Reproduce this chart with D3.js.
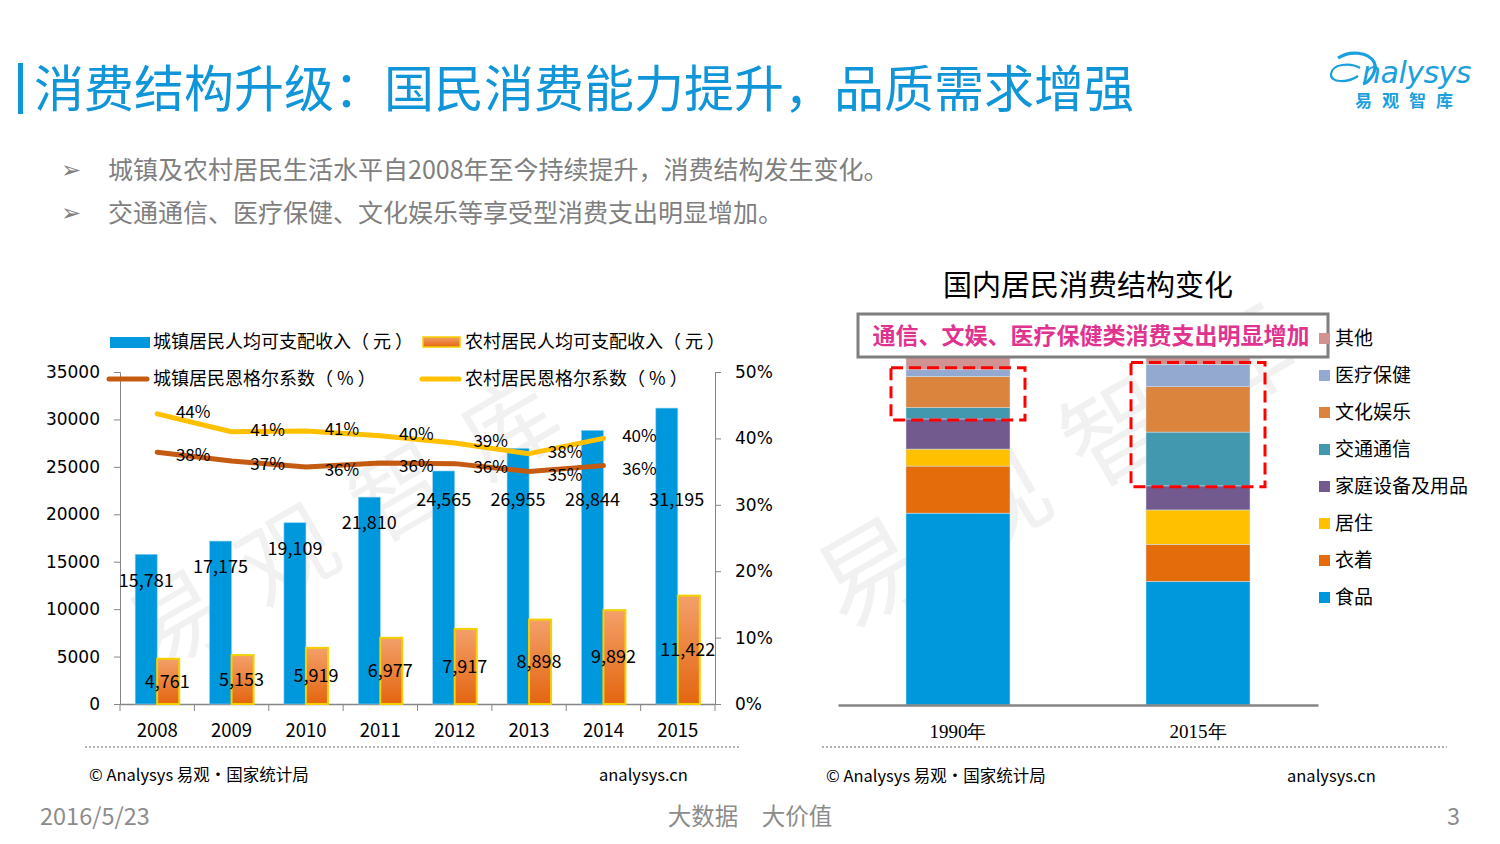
<!DOCTYPE html>
<html><head><meta charset="utf-8">
<script src="https://cdn.jsdelivr.net/npm/d3@7"></script>
<style>
html,body{margin:0;padding:0;background:#fff;}
svg{display:block;font-family:"Noto Sans CJK SC","Noto Sans",sans-serif;}
</style></head>
<body><svg id="c" width="1500" height="844"></svg>
<script>
// ---------- data ----------
const years = ["2008","2009","2010","2011","2012","2013","2014","2015"];
const urbanIncome = [15781,17175,19109,21810,24565,26955,28844,31195];
const ruralIncome = [4761,5153,5919,6977,7917,8898,9892,11422];
const lineYears = ["2008","2009","2010","2011","2012","2013","2014"];
const urbanEngel = [37.9,36.6,35.7,36.3,36.2,35.0,35.9];
const ruralEngel = [43.7,41.0,41.1,40.4,39.3,37.7,40.0];
const leftTicks = [0,5000,10000,15000,20000,25000,30000,35000];
const rightTicks = [0,10,20,30,40,50];
const incomeLegend = ["城镇居民人均可支配收入（ 元 ）","农村居民人均可支配收入（ 元 ）"];
const engelLegend = ["城镇居民恩格尔系数（ % ）","农村居民恩格尔系数（ % ）"];

const structCats = ["1990年","2015年"];
const structSeries = ["食品","衣着","居住","家庭设备及用品","交通通信","文化娱乐","医疗保健","其他"];
const share1990 = [54.2,13.3,4.8,8.5,3.2,8.8,1.9,5.3];
const share2015 = [34.9,10.5,9.7,6.8,15.2,12.8,6.3,3.8];
const structColors = ["#0098dc","#e46c0a","#ffc000","#725a8f","#4198af","#db843d","#94a9d0","#d19392"];
const highlightSeries = ["交通通信","文化娱乐","医疗保健"];

const svg = d3.select("#c");
const blue = "#0098dc";

// ---------- header ----------
svg.append("rect").attr("x",18).attr("y",63).attr("width",5).attr("height",51).attr("fill","#0f95d8");
svg.append("text").attr("x",34).attr("y",107).attr("font-size",50).attr("fill","#0f95d8")
  .text("消费结构升级：国民消费能力提升，品质需求增强");

// logo
const logo = svg.append("g").attr("fill","none").attr("stroke","#1aa0dc");
logo.append("path").attr("d","M1338,58 C1350,50 1368,52 1374,62 C1378,70 1370,82 1363,84")
  .attr("stroke-width",3.2);
logo.append("path").attr("d","M1360,68 C1350,62 1332,64 1331,74 C1330,83 1348,83 1358,76")
  .attr("stroke-width",2.2);
svg.append("text").attr("x",1362).attr("y",83).attr("font-size",30).attr("font-style","italic")
  .attr("font-family","DejaVu Sans").attr("fill","#1aa0dc").attr("letter-spacing",-0.5).text("nalysys");
svg.append("text").attr("x",1355).attr("y",107).attr("font-size",17).attr("font-weight","bold")
  .attr("fill","#1aa0dc").attr("letter-spacing",10).text("易观智库");

// bullets
const bullets = ["城镇及农村居民生活水平自2008年至今持续提升，消费结构发生变化。","交通通信、医疗保健、文化娱乐等享受型消费支出明显增加。"];
bullets.forEach((t,i)=>{
  const y = 179 + i*43;
  svg.append("text").attr("x",61).attr("y",y-1).attr("font-size",24).attr("font-family","DejaVu Sans")
    .attr("fill","#7f7f7f").text("➢");
  svg.append("text").attr("x",108).attr("y",y).attr("font-size",25).attr("fill","#7f7f7f").text(t);
});

// ---------- left chart ----------
const L = {x0:120, x1:715, y0:704, y1:372};
const x = d3.scaleBand().domain(years).range([L.x0,L.x1]).padding(0);
const xi = d3.scaleBand().domain(["u","r"]).range([0,x.bandwidth()]).paddingInner(0).paddingOuter(0.69);
const yL = d3.scaleLinear().domain([0,35000]).range([L.y0,L.y1]);
const yR = d3.scaleLinear().domain([0,50]).range([L.y0,L.y1]);

// watermark
function watermark(cx,cy,size){
  const g = svg.append("g").attr("transform",`translate(${cx},${cy}) rotate(-30)`);
  g.append("text").attr("text-anchor","middle").attr("font-size",size).attr("fill","#000")
    .attr("fill-opacity",0.055).attr("letter-spacing",size*0.35).text("易观智库");
}
watermark(375,545,95);
watermark(1090,490,105);

const defs = svg.append("defs");
const grad = defs.append("linearGradient").attr("id","og").attr("x1",0).attr("y1",0).attr("x2",0).attr("y2",1);
grad.append("stop").attr("offset","0%").attr("stop-color","#f3a06a");
grad.append("stop").attr("offset","100%").attr("stop-color","#e4650f");

const gL = svg.append("g");
// axes
const axL = gL.append("g").attr("transform",`translate(${L.x0},0)`)
  .call(d3.axisLeft(yL).tickValues(leftTicks).tickFormat(d3.format("d")).tickSize(6).tickPadding(14));
const axR = gL.append("g").attr("transform",`translate(${L.x1},0)`)
  .call(d3.axisRight(yR).tickValues(rightTicks).tickFormat(d=>d+"%").tickSize(6).tickPadding(14));
const axX = gL.append("g").attr("transform",`translate(0,${L.y0})`)
  .call(d3.axisBottom(x).tickSize(0).tickPadding(20));
[axL,axR,axX].forEach(a=>{
  a.selectAll("path,line").attr("stroke","#868686");
  a.selectAll("text").attr("fill","#000").attr("font-size",17).attr("font-family","DejaVu Sans");
});
axX.selectAll("text").attr("font-family","Noto Sans CJK SC").attr("font-size",18.5);
axX.select(".domain").attr("stroke-width",1.5);
// x tick marks at band boundaries
gL.append("g").selectAll("line").data(years.concat(["end"])).join("line")
  .attr("x1",(d,i)=>L.x0+i*x.step()).attr("x2",(d,i)=>L.x0+i*x.step())
  .attr("y1",L.y0).attr("y2",L.y0+7).attr("stroke","#868686");

// bars
gL.append("g").selectAll("rect").data(urbanIncome).join("rect")
  .attr("x",(d,i)=>x(years[i])+xi("u")).attr("width",xi.bandwidth())
  .attr("y",d=>yL(d)).attr("height",d=>L.y0-yL(d))
  .attr("fill",blue).attr("stroke","#8fd0f0").attr("stroke-width",0.6);
gL.append("g").selectAll("rect").data(ruralIncome).join("rect")
  .attr("x",(d,i)=>x(years[i])+xi("r")).attr("width",xi.bandwidth())
  .attr("y",d=>yL(d)).attr("height",d=>L.y0-yL(d))
  .attr("fill","url(#og)").attr("stroke","#f5d000").attr("stroke-width",2);

// lines
const line = d3.line().x((d,i)=>x(lineYears[i])+x.bandwidth()/2).y(d=>yR(d)).curve(d3.curveLinear);
gL.append("path").datum(ruralEngel).attr("d",line).attr("fill","none")
  .attr("stroke","#ffc000").attr("stroke-width",5).attr("stroke-linecap","round").attr("stroke-linejoin","round");
gL.append("path").datum(urbanEngel).attr("d",line).attr("fill","none")
  .attr("stroke","#c55a11").attr("stroke-width",5).attr("stroke-linecap","round").attr("stroke-linejoin","round");

// labels
const fmt = d3.format(",");
const lab = gL.append("g").attr("font-size",18).attr("fill","#000").attr("text-anchor","middle");
lab.selectAll("text.u").data(urbanIncome).join("text").attr("class","u")
  .attr("x",(d,i)=>x(years[i])+xi("u")+xi.bandwidth()/2+(i===years.length-1?10:0))
  .attr("y",d=>Math.max(yL(d)+26,500)).attr("dy","0.35em").text(d=>fmt(d));
lab.selectAll("text.r").data(ruralIncome).join("text").attr("class","r")
  .attr("x",(d,i)=>x(years[i])+xi("r")+xi.bandwidth()/2-1)
  .attr("y",d=>(yL(d)+L.y0)/2).attr("dy","0.35em").text(d=>fmt(d));
[ruralEngel,urbanEngel].forEach((arr,k)=>{
  lab.selectAll("text.e"+k).data(arr).join("text").attr("class","e"+k)
    .attr("x",(d,i)=>x(lineYears[i])+x.bandwidth()/2+36)
    .attr("y",d=>yR(d)+(k===0?-2:3)).attr("dy","0.35em").attr("font-size",17).text(d=>Math.round(d)+"%");
});

// legend
const lg = svg.append("g").attr("font-size",18).attr("fill","#000");
lg.append("rect").attr("x",110).attr("y",337).attr("width",40).attr("height",11).attr("fill",blue);
lg.append("text").attr("x",153).attr("y",342).attr("dy","0.35em").text(incomeLegend[0]);
lg.append("rect").attr("x",423).attr("y",337).attr("width",37).attr("height",10).attr("fill","url(#og)")
  .attr("stroke","#f5d000").attr("stroke-width",1.5);
lg.append("text").attr("x",465).attr("y",342).attr("dy","0.35em").text(incomeLegend[1]);
lg.append("line").attr("x1",109).attr("x2",147).attr("y1",379).attr("y2",379).attr("stroke","#c55a11")
  .attr("stroke-width",5).attr("stroke-linecap","round");
lg.append("text").attr("x",153).attr("y",379).attr("dy","0.35em").text(engelLegend[0]);
lg.append("line").attr("x1",422).attr("x2",459).attr("y1",379).attr("y2",379).attr("stroke","#ffc000")
  .attr("stroke-width",5).attr("stroke-linecap","round");
lg.append("text").attr("x",465).attr("y",379).attr("dy","0.35em").text(engelLegend[1]);

// ---------- right chart ----------
const R = {x0:838, x1:1318, y0:705, y1:351};
const xs = d3.scaleBand().domain(structCats).range([R.x0,R.x1]).paddingInner(0.5667).paddingOuter(0.2833);
const ys = d3.scaleLinear().domain([0,100]).range([R.y0,R.y1]);
const rows = structCats.map((c,i)=>{
  const o = {cat:c}; const arr = i===0?share1990:share2015;
  structSeries.forEach((s,j)=>o[s]=arr[j]); return o;
});
const stacked = d3.stack().keys(structSeries)(rows);
const color = d3.scaleOrdinal().domain(structSeries).range(structColors);
const gR = svg.append("g");
gR.selectAll("g").data(stacked).join("g").attr("fill",d=>color(d.key))
  .selectAll("rect").data(d=>d).join("rect")
  .attr("x",d=>xs(d.data.cat)).attr("width",xs.bandwidth())
  .attr("y",d=>ys(d[1])).attr("height",d=>ys(d[0])-ys(d[1]))
  .attr("stroke","#cfe6f3").attr("stroke-width",0.5);
const axS = gR.append("g").attr("transform",`translate(0,${R.y0})`)
  .call(d3.axisBottom(xs).tickSize(0).tickPadding(20));
axS.select(".domain").attr("stroke","#868686").attr("stroke-width",2.5);
axS.selectAll("text").attr("font-size",19).attr("fill","#000")
  .attr("font-family","Liberation Serif, serif");

// red dashed highlight boxes
structCats.forEach((c,i)=>{
  const low = stacked.find(s=>s.key===highlightSeries[0])[i][0];
  const high = stacked.find(s=>s.key===highlightSeries[highlightSeries.length-1])[i][1];
  gR.append("rect").attr("x",xs(c)-15).attr("width",xs.bandwidth()+30)
    .attr("y",ys(high)-2).attr("height",ys(low)-ys(high)+3)
    .attr("fill","none").attr("stroke","#ff0000").attr("stroke-width",3).attr("stroke-dasharray","12,6");
});

// title and callout
svg.append("text").attr("x",1088).attr("y",296).attr("text-anchor","middle").attr("font-size",29)
  .attr("fill","#000").text("国内居民消费结构变化");
svg.append("rect").attr("x",858).attr("y",314).attr("width",470).attr("height",43)
  .attr("fill","#fff").attr("stroke","#7f7f7f").attr("stroke-width",3);
svg.append("text").attr("x",1091).attr("y",336).attr("dy","0.35em").attr("text-anchor","middle")
  .attr("font-size",23).attr("font-weight","bold").attr("fill","#e0338f")
  .text("通信、文娱、医疗保健类消费支出明显增加");

// right legend
const rl = svg.append("g").attr("font-size",19).attr("fill","#000");
structSeries.slice().reverse().forEach((s,i)=>{
  const y = 338 + i*37;
  rl.append("rect").attr("x",1319).attr("y",y-5).attr("width",11).attr("height",11).attr("fill",color(s));
  rl.append("text").attr("x",1335).attr("y",y).attr("dy","0.35em").text(s);
});

// ---------- footer ----------
svg.append("line").attr("x1",85).attr("x2",740).attr("y1",747).attr("y2",747)
  .attr("stroke","#999").attr("stroke-width",1.5).attr("stroke-dasharray","2,2");
svg.append("line").attr("x1",822).attr("x2",1447).attr("y1",747).attr("y2",747)
  .attr("stroke","#999").attr("stroke-width",1.5).attr("stroke-dasharray","2,2");
const ft = svg.append("g").attr("font-size",16.5).attr("fill","#000");
ft.append("text").attr("x",89).attr("y",781).text("© Analysys 易观·国家统计局");
ft.append("text").attr("x",599).attr("y",781).text("analysys.cn");
ft.append("text").attr("x",826).attr("y",782).text("© Analysys 易观·国家统计局");
ft.append("text").attr("x",1287).attr("y",782).text("analysys.cn");
const bt = svg.append("g").attr("font-size",23.5).attr("fill","#8c8c8c");
bt.append("text").attr("x",40).attr("y",825).text("2016/5/23");
bt.append("text").attr("x",750).attr("y",825).attr("text-anchor","middle").text("大数据　大价值");
bt.append("text").attr("x",1460).attr("y",825).attr("text-anchor","end").text("3");
</script></body></html>
